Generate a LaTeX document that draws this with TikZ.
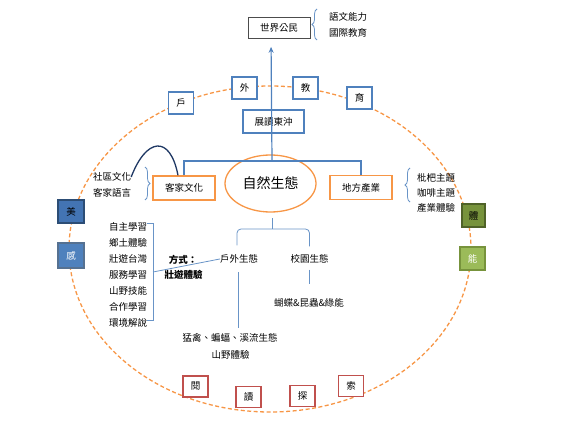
\documentclass[tikz,border=0pt]{standalone}
\usepackage{fontspec}
\setmainfont{Noto Sans CJK TC}
\usepackage{xcolor}
\usepackage{tikz}
\usetikzlibrary{calc,arrows.meta,shapes.geometric,decorations.pathreplacing}
\definecolor{ringorange}{HTML}{F79646}
\definecolor{linkblue}{HTML}{4F81BD}
\definecolor{curvenavy}{HTML}{1F3864}
\definecolor{boxred}{HTML}{C0504D}
\definecolor{bluedeep}{HTML}{4374B3}
\definecolor{blueedge}{HTML}{2C4D75}
\definecolor{greendeep}{HTML}{77933C}
\definecolor{greenlight}{HTML}{9BBB59}
\definecolor{greenedge}{HTML}{4F6228}
\tikzset{every node/.append style={font=\fontsize{9.5}{11}\selectfont, inner sep=0pt}}

\begin{document}
\begin{tikzpicture}[x=1pt, y=-1pt, >=stealth,
    link/.style={draw=linkblue, line width=1.1pt},
    thinlink/.style={draw=linkblue!85, line width=0.8pt},
    wordbox/.style={draw=linkblue, line width=1.3pt, fill=white, minimum width=25pt, minimum height=22pt},
    readbox/.style={draw=boxred, line width=1.3pt, fill=white, minimum width=25pt, minimum height=21pt},
    themebox/.style={draw=ringorange, line width=1.3pt, fill=white, minimum width=62pt, minimum height=24pt},
    bracelink/.style={thinlink, decorate, decoration={brace, amplitude=5pt}}]
    \useasboundingbox (0,0) rectangle (577,427);
    \draw[ringorange, line width=1.3pt, dash pattern=on 4pt off 2.5pt] (270,249) ellipse [x radius=201, y radius=163];

    \node[draw=black!70, line width=0.7pt, minimum width=62pt, minimum height=21pt] (world) at (279,28) {世界公民};
    \node (lang) at (348,17) {語文能力};
    \node (intl) at (348,33) {國際教育};
    \draw[bracelink] (317,40) -- (317,9);

    \node[draw=linkblue, line width=1.3pt, minimum width=61pt, minimum height=23pt] (school) at (273.5,121.5) {展讀東沖};
    \foreach \ch/\x/\y in {戶/181/103, 外/244.5/88, 教/305.5/88, 育/359.5/98}
        \node[wordbox] (out-\ch) at (\x,\y) {\ch};

    \node[draw=ringorange, line width=1.3pt, ellipse, minimum width=91pt, minimum height=57pt, font=\fontsize{14}{16}\selectfont] (nature) at (270.5,183.5) {自然生態};
    \node[themebox] (hakka) at (184,188) {客家文化};
    \node[themebox] (industry) at (361,187.5) {地方產業};
    \coordinate (hub) at (272,161);
    \draw[link] (hakka.north) |- (hub) -| (industry.north);
    \draw[link, line width=1.2pt, -{Stealth[length=6pt, width=5pt]}, shorten >=8pt] (hub) -- ($(world.south)+(-8,0)$);

    \node (community) at (112,177) {社區文化};
    \node (language) at (112,193) {客家語言};
    \draw[bracelink] (145,167) -- (145,200);
    \draw[curvenavy, line width=1.3pt] (community.east) .. controls (146,138) and (170,134) .. ($(hakka.north)+(-6,0)$);

    \node (loquat) at (436,178) {枇杷主題};
    \node (coffee) at (436,193) {咖啡主題};
    \node (trade) at (436,208) {產業體驗};
    \draw[bracelink] (410,202) -- (410,168);

    \node[draw=blueedge, line width=1.3pt, fill=bluedeep, minimum width=26pt, minimum height=23pt] (beauty) at (71,211.5) {美};
    \node[draw=blueedge!80, line width=1.3pt, fill=linkblue, text=white, minimum width=26pt, minimum height=25pt] (sense) at (71,255.5) {感};
    \node[draw=greenedge, line width=1.3pt, fill=greendeep, minimum width=23pt, minimum height=23pt] (body) at (473.5,215.5) {體};
    \node[draw=greendeep, line width=1.3pt, fill=greenlight, text=white, minimum width=25pt, minimum height=23pt] (power) at (472.5,258.5) {能};

    \foreach \ch/\x/\y in {閱/195.5/386.5, 讀/248.5/397, 探/302.5/396, 索/351/386}
        \node[readbox] (read-\ch) at (\x,\y) {\ch};

    \foreach \w [count=\i from 0] in {自主學習, 鄉土體驗, 壯遊台灣, 服務學習, 山野技能, 合作學習, 環境解說}
        \node (skill\i) at (128,227+16*\i) {\w};
    \draw[thinlink] (147,223) -- (153,223) -- (153,320) -- (147,320);
    \coordinate (join) at (153,272);
    \node[font=\fontsize{9.5}{11}\selectfont\bfseries] (way) at (183,260) {方式：};
    \node[font=\fontsize{9.5}{11}\selectfont\bfseries] (tour) at (183.5,275) {壯遊體驗};

    \node (outdoor) at (239,259) {戶外生態};
    \node (campus) at (309.5,259) {校園生態};
    \draw[thinlink] (join) -- (outdoor.west);
    \draw[thinlink, rounded corners=4pt] (outdoor.north) ++(-2,-9) |- (272,229) -| ($(campus.north)+(0,-8)$);
    \draw[thinlink] (272,229) -- ($(nature.south)+(1.5,5)$);

    \node (raptor) at (230,338) {猛禽、蝙蝠、溪流生態};
    \node (hike) at (230.5,355) {山野體驗};
    \node (insect) at (309,303) {蝴蝶\&昆蟲\&綠能};
    \draw[thinlink] (238,272) -- (238,328);
    \draw[thinlink] (campus.south) ++(0,6) -- ++(0,14);
\end{tikzpicture}
\end{document}
